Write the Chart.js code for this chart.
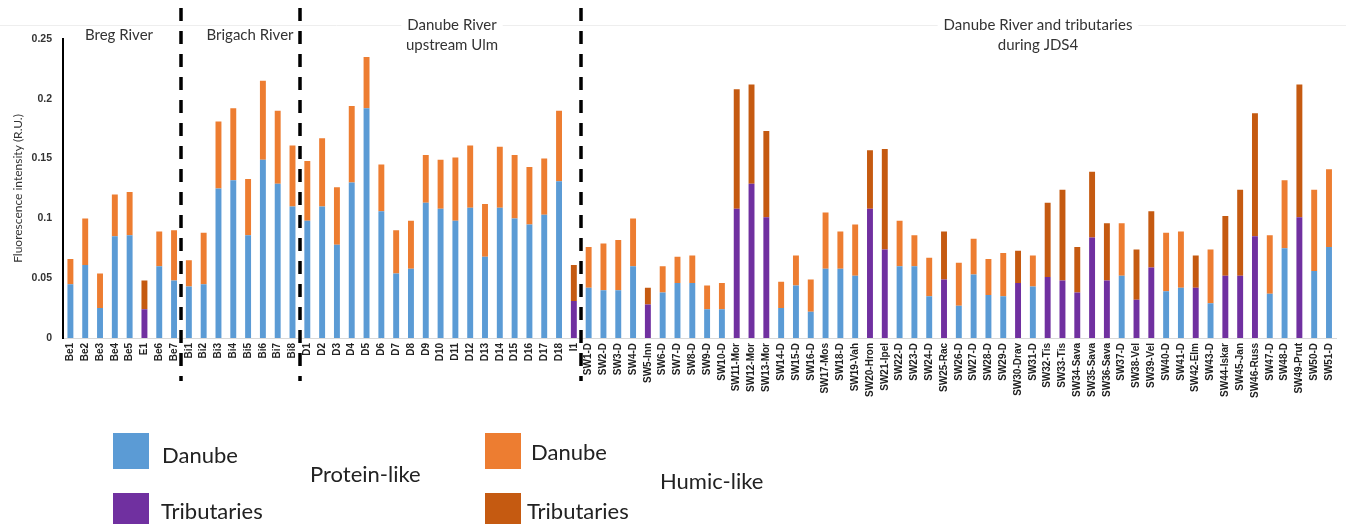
<!DOCTYPE html>
<html>
<head>
<meta charset="utf-8">
<script src="https://cdn.jsdelivr.net/npm/chart.js@4.4.1/dist/chart.umd.min.js"></script>
<style>
  html, body { margin: 0; padding: 0; background: #fff; }
  #wrap { width: 1346px; height: 524px; position: relative; }
</style>
</head>
<body>
<div id="wrap"><canvas id="fluo" width="1346" height="524"></canvas></div>
<script>
const samples = ["Be1","Be2","Be3","Be4","Be5","E1","Be6","Be7",
  "Bi1","Bi2","Bi3","Bi4","Bi5","Bi6","Bi7","Bi8",
  "D1","D2","D3","D4","D5","D6","D7","D8","D9","D10","D11","D12","D13","D14","D15","D16","D17","D18","I1",
  "SW1-D","SW2-D","SW3-D","SW4-D","SW5-Inn","SW6-D","SW7-D","SW8-D","SW9-D","SW10-D",
  "SW11-Mor","SW12-Mor","SW13-Mor","SW14-D","SW15-D","SW16-D","SW17-Mos","SW18-D","SW19-Vah","SW20-Hron",
  "SW21-Ipel","SW22-D","SW23-D","SW24-D","SW25-Rac","SW26-D","SW27-D","SW28-D","SW29-D","SW30-Drav",
  "SW31-D","SW32-Tis","SW33-Tis","SW34-Sava","SW35-Sava","SW36-Sava","SW37-D","SW38-Vel","SW39-Vel","SW40-D",
  "SW41-D","SW42-Elm","SW43-D","SW44-Iskar","SW45-Jan","SW46-Russ","SW47-D","SW48-D","SW49-Prut","SW50-D",
  "SW51-D"]

// samples taken in tributaries (purple / dark orange)
const tributaries = ["E1","I1","SW5-Inn","SW11-Mor","SW12-Mor","SW13-Mor","SW20-Hron","SW21-Ipel","SW25-Rac",
  "SW30-Drav","SW32-Tis","SW33-Tis","SW34-Sava","SW35-Sava","SW36-Sava","SW38-Vel","SW39-Vel","SW42-Elm",
  "SW44-Iskar","SW45-Jan","SW46-Russ","SW49-Prut"]

const proteinLike = [0.045,0.061,0.025,0.085,0.086,0.024,0.060,0.048,
  0.043,0.045,0.125,0.132,0.086,0.149,0.129,0.110,
  0.098,0.110,0.078,0.130,0.192,0.106,0.054,0.058,0.113,0.108,0.098,0.109,0.068,0.109,0.100,0.095,0.103,0.131,0.031,
  0.042,0.040,0.040,0.060,0.028,0.038,0.046,0.046,0.024,0.024,
  0.108,0.129,0.101,0.025,0.044,0.022,0.058,0.058,0.052,0.108,
  0.074,0.060,0.060,0.035,0.049,0.027,0.053,0.036,0.035,0.046,
  0.043,0.051,0.048,0.038,0.084,0.048,0.052,0.032,0.059,0.039,
  0.042,0.042,0.029,0.052,0.052,0.085,0.037,0.075,0.101,0.056,
  0.076]

const humicLike = [0.021,0.039,0.029,0.035,0.036,0.024,0.029,0.042,
  0.022,0.043,0.056,0.060,0.047,0.066,0.061,0.051,
  0.050,0.057,0.048,0.064,0.043,0.039,0.036,0.040,0.040,0.041,0.053,0.052,0.044,0.051,0.053,0.048,0.047,0.059,0.030,
  0.034,0.039,0.042,0.040,0.014,0.022,0.022,0.023,0.020,0.022,
  0.100,0.083,0.072,0.022,0.025,0.027,0.047,0.031,0.043,0.049,
  0.084,0.038,0.026,0.032,0.040,0.036,0.030,0.030,0.036,0.027,
  0.026,0.062,0.076,0.038,0.055,0.048,0.044,0.042,0.047,0.049,
  0.047,0.027,0.045,0.050,0.072,0.103,0.049,0.057,0.111,0.068,
  0.065]

const groupSizes = [8, 8, 19, 51]
const yTicks = [0, 0.05, 0.1, 0.15, 0.2, 0.25]

const colors = {
  protD: "#5B9BD5",
  protT: "#7030A0",
  humD: "#ED7D31",
  humT: "#C55A11"
}

const isTrib = s => tributaries.includes(s)
const pick = (vals, trib) => samples.map((s, i) => isTrib(s) === trib ? vals[i] : null)

// dashed separators between the sampling groups
const breaks = []
groupSizes.slice(0, -1).reduce((acc, n) => { breaks.push(acc + n - 0.5); return acc + n }, 0)

const overlay = {
  id: "overlay",
  afterDraw(chart) {
    const ctx = chart.ctx
    const x = chart.scales.x
    ctx.save()

    // faint frame line at the top
    ctx.strokeStyle = "#eeeeee"
    ctx.lineWidth = 1
    ctx.beginPath()
    ctx.moveTo(0, 25.5)
    ctx.lineTo(chart.width, 25.5)
    ctx.stroke()

    ctx.strokeStyle = "#000"
    ctx.lineWidth = 3.5
    ctx.setLineDash([13, 10])
    breaks.forEach(b => {
      const px = Math.round(x.getPixelForValue(b))
      ctx.beginPath()
      ctx.moveTo(px, 8)
      ctx.lineTo(px, 381)
      ctx.stroke()
    })
    ctx.setLineDash([])

    // group titles
    ctx.font = "15px Lato"
    ctx.textAlign = "center"
    ctx.textBaseline = "middle"
    const titles = [
      [["Breg River"], 119, 35],
      [["Brigach River"], 250, 35],
      [["Danube River", "upstream Ulm"], 452, 25],
      [["Danube River and tributaries", "during JDS4"], 1038, 25]
    ]
    titles.forEach(([lines, tx, ty]) => {
      lines.forEach((t, i) => {
        const ly = ty + i * 20
        if (Math.abs(ly - 25) < 8) {
          const w = ctx.measureText(t).width
          ctx.fillStyle = "#fff"
          ctx.fillRect(tx - w / 2 - 6, ly - 8, w + 12, 16)
        }
        ctx.fillStyle = "#333"
        ctx.fillText(t, tx, ly)
      })
    })

    // legend
    ctx.textAlign = "left"
    ctx.font = "22px Lato"
    const boxes = [
      [colors.protD, 113, 433, "Danube", 162, 456],
      [colors.protT, 113, 493, "Tributaries", 161, 512],
      [colors.humD, 485, 433, "Danube", 531, 453],
      [colors.humT, 485, 493, "Tributaries", 527, 512]
    ]
    boxes.forEach(([c, bx, by, t, lx, ly]) => {
      ctx.fillStyle = c
      ctx.fillRect(bx, by, 36, 36)
      ctx.fillStyle = "#222"
      ctx.fillText(t, lx, ly)
    })
    ctx.fillText("Protein-like", 310, 475)
    ctx.fillText("Humic-like", 660, 482)
    ctx.restore()
  }
}

function draw() {
  new Chart(document.getElementById("fluo"), {
    type: "bar",
    data: {
      labels: samples,
      datasets: [
        { label: "Protein-like Danube", data: pick(proteinLike, false), backgroundColor: colors.protD },
        { label: "Protein-like Tributaries", data: pick(proteinLike, true), backgroundColor: colors.protT },
        { label: "Humic-like Danube", data: pick(humicLike, false), backgroundColor: colors.humD },
        { label: "Humic-like Tributaries", data: pick(humicLike, true), backgroundColor: colors.humT }
      ]
    },
    options: {
      responsive: false,
      animation: false,
      barPercentage: 0.4,
      categoryPercentage: 1.0,
      layout: { padding: { top: 39, right: 1, left: 0, bottom: 0 } },
      plugins: { legend: { display: false }, tooltip: { enabled: false } },
      scales: {
        x: {
          stacked: true,
          offset: true,
          grid: { display: false, drawTicks: false },
          border: { color: "#d9d9d9", width: 1 },
          ticks: {
            autoSkip: false, maxRotation: 90, minRotation: 90, padding: 5,
            color: "#222", font: { family: "Liberation Sans", size: 10, weight: "bold" }
          },
          afterFit: s => { s.height = 186 }
        },
        y: {
          stacked: true,
          min: 0,
          max: 0.25,
          grid: { display: false, drawTicks: false },
          border: { color: "#000", width: 2 },
          afterBuildTicks: s => { s.ticks = yTicks.map(v => ({ value: v })) },
          ticks: {
            padding: 11,
            color: "#333",
            font: { family: "Liberation Sans", size: 10.5, weight: "bold" },
            callback: v => String(Number(v.toFixed(2)))
          },
          title: {
            display: true,
            text: "Fluorescence intensity (R.U.)",
            color: "#333",
            font: { family: "Lato", size: 12 },
            padding: { top: 11, bottom: 0 }
          },
          afterFit: s => { s.width = 63 }
        }
      }
    },
    plugins: [overlay]
  })
}

Promise.all([
  document.fonts.load("15px Lato"),
  document.fonts.load("bold 10px 'Liberation Sans'")
]).catch(() => {}).finally(draw)
</script>
</body>
</html>
